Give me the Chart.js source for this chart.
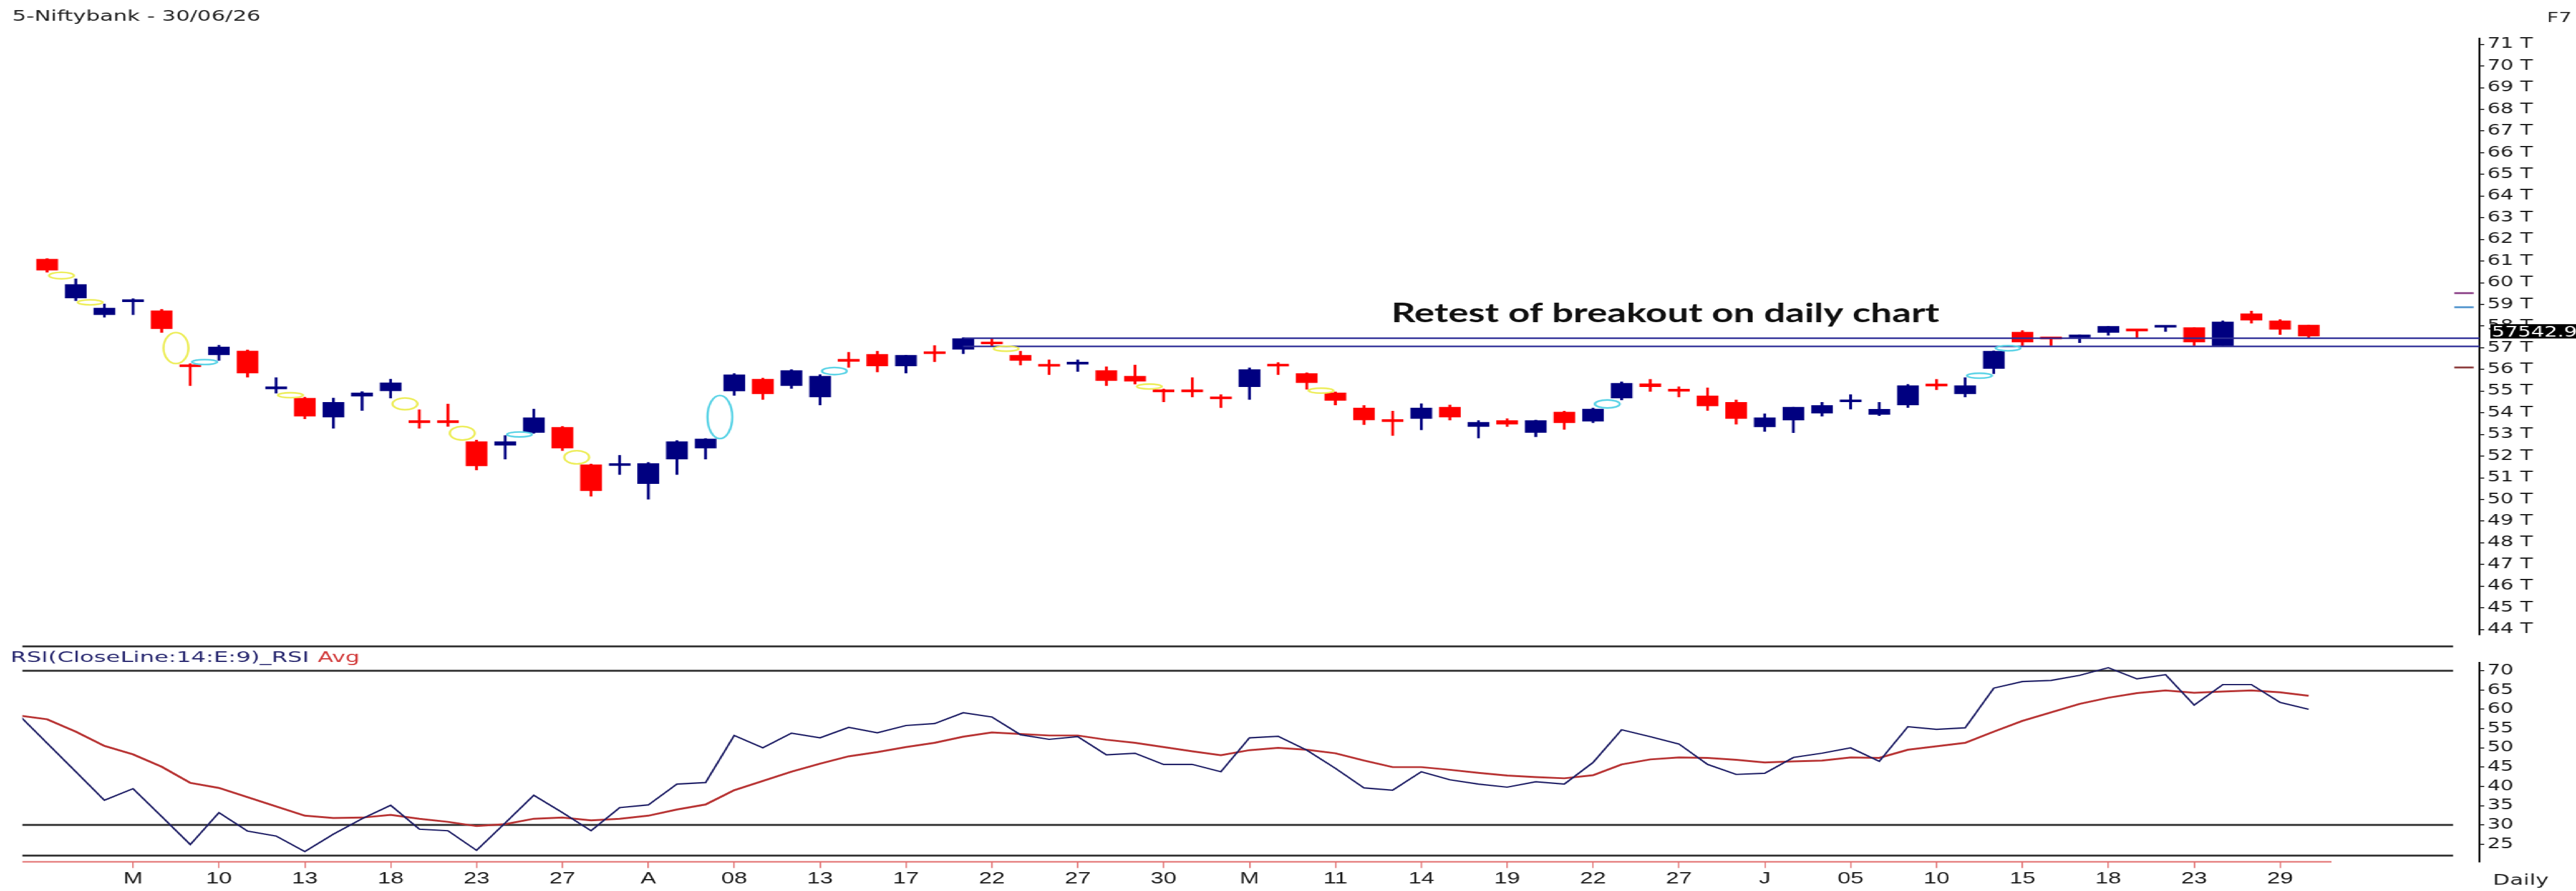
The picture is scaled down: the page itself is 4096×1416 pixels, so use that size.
<!DOCTYPE html>
<html>
<head>
<meta charset="utf-8">
<script src="https://cdn.jsdelivr.net/npm/chart.js@4.4.1/dist/chart.umd.min.js"></script>
<style>
  html, body { margin: 0; padding: 0; background: #fff; overflow: hidden; }
  #stage { position: absolute; left: 0; top: 0; transform-origin: 0 0; }
  #stage canvas { position: absolute; left: 0; }
</style>
</head>
<body>
<div id="stage">
  <canvas id="priceChart"></canvas>
  <canvas id="rsiChart"></canvas>
</div>
<script>
// ==========================================================================
// DATA
// ==========================================================================
const opens = [61.09, 59.29, 58.52, 59.12, 58.71, 56.20, 56.67, 56.85, 55.10, 54.67,
  53.80, 54.76, 55.01, 53.58, 53.64, 52.67, 52.50, 53.09, 53.33, 51.60,
  51.56, 50.73, 51.86, 52.37, 55.00, 55.55, 55.25, 54.73, 56.41, 56.70,
  56.16, 56.76, 56.93, 57.21, 56.65, 56.18, 56.24, 55.95, 55.69, 55.00,
  55.00, 54.74, 55.20, 56.19, 55.81, 54.92, 54.22, 53.63, 53.73, 54.26,
  53.36, 53.64, 53.09, 54.03, 53.61, 54.68, 55.34, 55.03, 54.78, 54.48,
  53.35, 53.66, 53.98, 54.50, 53.92, 54.36, 55.27, 54.87, 56.04, 57.72,
  57.44, 57.47, 57.70, 57.81, 57.94, 57.93, 57.09, 58.57, 58.24, 58.05];
const highs = [61.12, 60.18, 59.02, 59.27, 58.77, 56.27, 57.12, 56.90, 55.62, 54.72,
  54.68, 54.98, 55.55, 54.14, 54.40, 52.74, 52.95, 54.17, 53.37, 51.64,
  52.04, 51.71, 52.72, 52.81, 55.81, 55.60, 55.99, 55.76, 56.79, 56.84,
  56.65, 57.10, 57.47, 57.44, 56.84, 56.44, 56.44, 56.12, 56.20, 55.10,
  55.62, 54.84, 56.07, 56.32, 55.85, 54.96, 54.34, 54.08, 54.42, 54.36,
  53.64, 53.73, 53.66, 54.08, 54.22, 55.43, 55.54, 55.20, 55.15, 54.59,
  53.95, 54.26, 54.48, 54.84, 54.48, 55.31, 55.54, 55.62, 56.86, 57.79,
  57.49, 57.60, 57.99, 57.81, 57.97, 57.93, 58.24, 58.69, 58.30, 58.05];
const lows = [60.48, 59.17, 58.41, 58.52, 57.70, 55.25, 56.41, 55.64, 54.90, 53.72,
  53.28, 54.10, 54.68, 53.28, 53.37, 51.36, 51.86, 53.05, 52.25, 50.15,
  51.15, 50.01, 51.15, 51.86, 54.80, 54.61, 55.12, 54.36, 56.09, 55.88,
  55.83, 56.35, 56.72, 57.07, 56.20, 55.76, 55.90, 55.25, 55.32, 54.50,
  54.73, 54.23, 54.61, 55.76, 55.08, 54.36, 53.45, 52.95, 53.21, 53.66,
  52.83, 53.36, 52.89, 53.23, 53.54, 54.59, 54.98, 54.73, 54.10, 53.47,
  53.14, 53.08, 53.84, 54.17, 53.86, 54.24, 55.06, 54.73, 55.80, 57.10,
  57.10, 57.23, 57.57, 57.47, 57.75, 57.10, 57.09, 58.13, 57.61, 57.44];
const closes = [60.58, 59.92, 58.83, 59.16, 57.88, 56.12, 57.04, 55.83, 55.14, 53.84,
  54.48, 54.92, 55.38, 53.54, 53.54, 51.55, 52.67, 53.77, 52.37, 50.40,
  51.60, 51.66, 52.67, 52.79, 55.75, 54.87, 55.95, 55.69, 56.37, 56.16,
  56.65, 56.72, 57.42, 57.17, 56.41, 56.14, 56.31, 55.48, 55.45, 54.96,
  54.96, 54.64, 55.99, 56.15, 55.39, 54.57, 53.67, 53.59, 54.22, 53.80,
  53.56, 53.47, 53.64, 53.54, 54.17, 55.36, 55.20, 54.99, 54.31, 53.73,
  53.77, 54.26, 54.34, 54.54, 54.16, 55.25, 55.23, 55.25, 56.84, 57.26,
  57.40, 57.60, 57.99, 57.77, 57.97, 57.26, 58.19, 58.27, 57.85, 57.54];

// gaps are marked after these bar indexes
const gapDownAfter = [0, 1, 4, 8, 12, 14, 18, 33, 38, 44];
const gapUpAfter = [5, 16, 23, 27, 54, 67, 68];

// breakout zone (in thousands) drawn from this bar to the axis
const breakoutLevels = [57.44, 57.06];
const breakoutFrom = 32;
const sideMarks = [59.52, 58.87, 56.09];
const lastPrice = 57542.9;

// RSI panel, first value belongs to bar -1
const rsiStart = -1;
const rsiValues = [58.6,
  51.2, 43.8, 36.4, 39.4, 32.2, 24.9, 33.2, 28.4, 27.1, 23.1,
  27.6, 31.6, 35.1, 28.9, 28.5, 23.4, 30.5, 37.7, 33.2, 28.5,
  34.5, 35.2, 40.6, 41.0, 53.2, 50.0, 53.8, 52.6, 55.3, 53.9,
  55.8, 56.3, 59.1, 58.0, 53.4, 52.2, 52.9, 48.2, 48.6, 45.7,
  45.7, 43.8, 52.6, 53.0, 49.4, 44.7, 39.6, 39.0, 43.8, 41.7,
  40.6, 39.8, 41.2, 40.6, 46.2, 54.7, 52.9, 51.0, 45.7, 43.1,
  43.4, 47.5, 48.6, 50.0, 46.5, 55.5, 54.8, 55.2, 65.5, 67.2,
  67.5, 68.8, 70.8, 67.9, 69.0, 61.1, 66.4, 66.4, 61.8, 60.0];
const rsiAvg = [58.4,
  57.4, 54.2, 50.5, 48.3, 45.1, 40.9, 39.6, 37.2, 34.8, 32.4,
  31.8, 31.9, 32.6, 31.6, 30.8, 29.7, 30.2, 31.6, 31.9, 31.2,
  31.6, 32.4, 34.0, 35.3, 39.0, 41.4, 43.8, 45.9, 47.8, 48.9,
  50.2, 51.3, 52.9, 54.0, 53.6, 53.2, 53.2, 52.1, 51.3, 50.2,
  49.1, 48.1, 49.4, 50.0, 49.5, 48.6, 46.7, 45.0, 45.0, 44.3,
  43.5, 42.8, 42.4, 42.1, 42.9, 45.7, 47.0, 47.5, 47.4, 46.9,
  46.2, 46.5, 46.7, 47.5, 47.4, 49.5, 50.4, 51.3, 54.2, 57.0,
  59.2, 61.4, 63.0, 64.2, 64.9, 64.3, 64.6, 64.9, 64.4, 63.5];
const rsiBands = [70, 30];

const xTickIdx = [3, 6, 9, 12, 15, 18, 21, 24, 27, 30, 33, 36, 39, 42, 45, 48, 51, 54, 57, 60, 63, 66, 69, 72, 75, 78];
const xTickLabels = ['M', '10', '13', '18', '23', '27', 'A', '08', '13', '17', '22', '27', '30',
  'M', '11', '14', '19', '22', '27', 'J', '05', '10', '15', '18', '23', '29'];

// ==========================================================================
// GEOMETRY (reference pixels -> canvas pixels)
// the original screenshot is stretched sideways, so the canvas is too
// ==========================================================================
const S = 4096 / 4151;
const W = 2825;
const K = 4096 / W;
const hx = v => v * S / K;
const hy = v => v * S;

const BAR0 = 76, BAR_STEP = 46.13;
const X_MIN = (36 - BAR0) / BAR_STEP;
const X_MAX = (3996 - BAR0) / BAR_STEP;
const AXIS_W = W - hx(3996);

const PH = Math.round(hy(1040));
const RT = Math.round(hy(1030));
const RH = 1416 - RT;
const ry = v => hy(v) - RT;

const stage = document.getElementById('stage');
stage.style.width = W + 'px';
stage.style.height = '1416px';
stage.style.transform = 'scaleX(' + K + ')';

function sizeCanvas(id, top, h) {
  const c = document.getElementById(id);
  c.width = W; c.height = h;
  c.style.width = W + 'px'; c.style.height = h + 'px';
  c.style.top = top + 'px';
  return c;
}

const UP = '#000080', DOWN = '#ff0000';
const candleColors = closes.map((c, i) => c >= opens[i] ? UP : DOWN);
const FONT = "'DejaVu Sans', sans-serif";
Chart.defaults.font.family = FONT;

function fitText(ctx, text, x, y, width, font, color) {
  ctx.save();
  ctx.font = font;
  ctx.fillStyle = color;
  ctx.textBaseline = 'alphabetic';
  ctx.textAlign = 'left';
  const w = ctx.measureText(text).width;
  ctx.translate(x, y);
  ctx.scale(width / w, 1);
  ctx.fillText(text, 0, 0);
  ctx.restore();
}

// ==========================================================================
// PRICE PANEL
// ==========================================================================
const gapMarks = {
  id: 'gapMarks',
  afterDatasetsDraw(chart) {
    const { ctx, scales: { x, y } } = chart;
    const draw = (i, hiVal, loVal, color) => {
      const top = y.getPixelForValue(hiVal), bot = y.getPixelForValue(loVal);
      ctx.beginPath();
      ctx.ellipse(x.getPixelForValue(i + 0.5), (top + bot) / 2, hx(20), Math.max((bot - top) / 2, hy(4)), 0, 0, Math.PI * 2);
      ctx.strokeStyle = color;
      ctx.stroke();
    };
    ctx.save();
    ctx.lineWidth = hy(2.6);
    gapDownAfter.forEach(i => draw(i, lows[i], highs[i + 1], '#eded5a'));
    gapUpAfter.forEach(i => draw(i, lows[i + 1], highs[i], '#5bd3e6'));
    ctx.restore();
  }
};

const priceDecor = {
  id: 'priceDecor',
  afterDraw(chart) {
    const { ctx, chartArea, scales: { y } } = chart;
    fitText(ctx, '5-Niftybank - 30/06/26', hx(20), hy(33), hx(400), hy(23) + 'px ' + FONT, '#222');
    fitText(ctx, 'F7', hx(4104), hy(35), hx(40), hy(22) + 'px ' + FONT, '#222');
    fitText(ctx, 'Retest of breakout on daily chart', hx(2242), hy(519), hx(883), 'bold ' + hy(42) + 'px Lato, sans-serif', '#111');

    // small level marks beside the axis
    const markColors = ['#8a3f86', '#4f93cc', '#8b3a3a'];
    ctx.save();
    ctx.lineWidth = hy(3);
    sideMarks.forEach((v, i) => {
      const py = y.getPixelForValue(v);
      ctx.strokeStyle = markColors[i];
      ctx.beginPath();
      ctx.moveTo(chartArea.right - hx(41), py);
      ctx.lineTo(chartArea.right - hx(10), py);
      ctx.stroke();
    });

    // last price box
    const py = y.getPixelForValue(lastPrice / 1000);
    ctx.fillStyle = '#000';
    ctx.fillRect(hx(4013), py - hy(19), W - hx(4013), hy(23));
    ctx.fillStyle = '#fff';
    ctx.font = hy(23) + 'px ' + FONT;
    ctx.textBaseline = 'alphabetic';
    ctx.fillText(lastPrice.toFixed(1), hx(4015), py + hy(1));
    ctx.restore();
  }
};

new Chart(sizeCanvas('priceChart', 0, PH), {
  type: 'line',
  data: {
    datasets: [
      ...breakoutLevels.map(l => ({
        type: 'line', data: [{ x: breakoutFrom, y: l }, { x: X_MAX, y: l }],
        borderColor: '#2c2c96', borderWidth: hy(2.6), pointRadius: 0, order: 0
      })),
      {
        type: 'bar', data: opens.map((o, i) => ({ x: i, y: [o, closes[i]] })),
        backgroundColor: candleColors, barThickness: hx(34), minBarLength: hy(3.5),
        grouped: false, order: 1
      },
      {
        type: 'bar', data: opens.map((o, i) => ({ x: i, y: [lows[i], highs[i]] })),
        backgroundColor: candleColors, barThickness: hx(3.5),
        grouped: false, order: 2
      }
    ]
  },
  options: {
    responsive: false, animation: false, devicePixelRatio: 1, events: [],
    layout: { padding: { left: hx(36), top: hy(62), right: 0, bottom: PH - hy(1036) } },
    plugins: { legend: { display: false }, tooltip: { enabled: false } },
    scales: {
      x: { type: 'linear', display: false, min: X_MIN, max: X_MAX, offset: false },
      y: {
        position: 'right', min: 43.75, max: 71.27,
        afterFit: s => { s.width = AXIS_W; },
        border: { display: true, color: '#000', width: 2.2 },
        grid: { drawOnChartArea: false, drawTicks: true, tickLength: hx(7), color: '#000', lineWidth: 1.5 },
        ticks: {
          stepSize: 1, includeBounds: false, padding: hx(5), color: '#1a1a1a',
          font: { family: FONT, size: hy(23) }, callback: v => v + ' T'
        }
      }
    }
  },
  plugins: [gapMarks, priceDecor]
});

// ==========================================================================
// RSI PANEL
// ==========================================================================
const rsiFrame = {
  id: 'rsiFrame',
  beforeDatasetsDraw(chart) {
    const { ctx, chartArea, scales: { x, y } } = chart;
    const right = chartArea.right - hx(43);
    const hline = (py, color, w, x2) => {
      ctx.strokeStyle = color; ctx.lineWidth = w;
      ctx.beginPath(); ctx.moveTo(chartArea.left, py); ctx.lineTo(x2, py); ctx.stroke();
    };
    ctx.save();
    hline(ry(1041), '#2b2b2b', hy(3), right);
    rsiBands.forEach(v => hline(y.getPixelForValue(v), '#2b2b2b', hy(3), right));
    hline(ry(1378), '#2b2b2b', hy(3), right);
    hline(chartArea.bottom, '#e27070', hy(2.2), x.getPixelForValue(closes.length - 1 + 0.8));
    ctx.restore();
  },
  afterDraw(chart) {
    const { ctx } = chart;
    fitText(ctx, 'RSI(CloseLine:14:E:9)_RSI', hx(17), ry(1066), hx(481), hy(24) + 'px ' + FONT, '#26266e');
    fitText(ctx, 'Avg', hx(512), ry(1066), hx(68), hy(24) + 'px ' + FONT, '#d23c3c');
    fitText(ctx, 'Daily', hx(4017), ry(1425), hx(90), hy(23) + 'px ' + FONT, '#222');
  }
};

const rsiPoints = arr => arr.map((v, i) => ({ x: rsiStart + i, y: v }));

new Chart(sizeCanvas('rsiChart', RT, RH), {
  type: 'line',
  data: {
    datasets: [
      { data: rsiPoints(rsiValues), borderColor: '#1f1f66', borderWidth: hy(2.2), pointRadius: 0, order: 0 },
      { data: rsiPoints(rsiAvg), borderColor: '#b83434', borderWidth: hy(3), pointRadius: 0, order: 1 }
    ]
  },
  options: {
    responsive: false, animation: false, devicePixelRatio: 1, events: [],
    layout: { padding: { left: hx(36), top: ry(1067.7), right: 0, bottom: 0 } },
    plugins: { legend: { display: false }, tooltip: { enabled: false } },
    scales: {
      x: {
        type: 'linear', position: 'bottom', min: X_MIN, max: X_MAX, offset: false,
        afterBuildTicks: s => { s.ticks = xTickIdx.map(v => ({ value: v })); },
        afterFit: s => { s.height = RH - ry(1388); },
        border: { display: false },
        grid: { drawOnChartArea: false, drawTicks: true, tickLength: hy(10), color: '#e27070', lineWidth: 1.5 },
        ticks: {
          autoSkip: false, maxRotation: 0, padding: hy(2), color: '#1a1a1a',
          font: { family: "'Liberation Sans Narrow', 'Liberation Sans', sans-serif", size: hy(26) },
          callback: (v, i) => xTickLabels[i]
        }
      },
      y: {
        position: 'right', min: 20.43, max: 72.03,
        afterFit: s => { s.width = AXIS_W; },
        border: { display: true, color: '#000', width: 2.2 },
        grid: { drawOnChartArea: false, drawTicks: true, tickLength: hx(7), color: '#000', lineWidth: 1.5 },
        ticks: {
          stepSize: 5, includeBounds: false, padding: hx(5), color: '#1a1a1a',
          font: { family: FONT, size: hy(23) }
        }
      }
    }
  },
  plugins: [rsiFrame]
});
</script>
</body>
</html>
